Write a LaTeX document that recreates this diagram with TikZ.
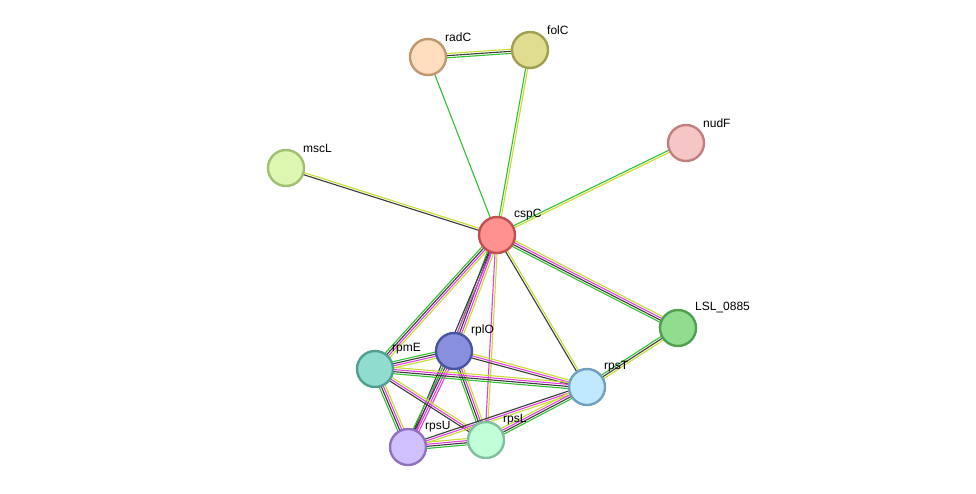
\documentclass[tikz,border=0pt]{standalone}
\usepackage{fontspec}
\setmainfont{Liberation Sans}
\usetikzlibrary{calc}
\definecolor{cG}{HTML}{33C033}
\definecolor{cK}{HTML}{3A3A3A}
\definecolor{cM}{HTML}{E040E0}
\definecolor{cL}{HTML}{C8DC30}
\newcommand\sedge[3]{%
  \foreach \c [count=\i] in {#3} {\xdef\nn{\i}}%
  \foreach \c [count=\i] in {#3} {%
    \pgfmathsetmacro\off{(\i-(\nn+1)/2)*2.1}%
    \draw[\c,line width=1.1pt] ($(#1)!\off pt!90:(#2)$) -- ($(#2)!\off pt!-90:(#1)$);}}
\tikzset{pn/.style={circle,minimum size=36pt,inner sep=0pt,line width=2.4pt},
  lb/.style={font=\fontsize{12}{14}\selectfont,anchor=south west,inner sep=1pt}}
\begin{document}
\begin{tikzpicture}[x=1pt,y=-1pt]
\useasboundingbox (0,0) rectangle (976,493);
\coordinate (radC) at (428,57);
\coordinate (folC) at (530,50);
\coordinate (nudF) at (686,143);
\coordinate (mscL) at (286,168);
\coordinate (cspC) at (497,235);
\coordinate (LSL) at (678,328);
\coordinate (rplO) at (454,351);
\coordinate (rpmE) at (375,369);
\coordinate (rpsT) at (587,387);
\coordinate (rpsU) at (408,447);
\coordinate (rpsL) at (486,440);
\sedge{radC}{folC}{cG,cK,cL}
\sedge{radC}{cspC}{cG}
\sedge{folC}{cspC}{cG,cL}
\sedge{nudF}{cspC}{cG,cL}
\sedge{mscL}{cspC}{cK,cL}
\sedge{cspC}{LSL}{cG,cK,cM,cL}
\sedge{cspC}{rpsT}{cK,cL}
\sedge{cspC}{rplO}{cG,cK,cM,cL}
\sedge{cspC}{rpmE}{cG,cK,cM,cL}
\sedge{cspC}{rpsU}{cK,cM}
\sedge{cspC}{rpsL}{cM,cL}
\sedge{LSL}{rpsT}{cG,cK,cL}
\sedge{rplO}{rpmE}{cG,cK,cM,cL}
\sedge{rplO}{rpsT}{cK,cM,cL}
\sedge{rplO}{rpsU}{cG,cK,cM,cM}
\sedge{rplO}{rpsL}{cG,cK,cM,cL}
\sedge{rpmE}{rpsT}{cG,cK,cM,cL}
\sedge{rpmE}{rpsU}{cG,cK,cM,cL}
\sedge{rpmE}{rpsL}{cK,cM,cL}
\sedge{rpsU}{rpsL}{cG,cK,cM,cL}
\sedge{rpsU}{rpsT}{cL,cM,cK}
\sedge{rpsL}{rpsT}{cG,cK,cM,cL}
\node[pn,fill={rgb,255:red,255;green,221;blue,190},draw={rgb,255:red,192;green,152;blue,112}] (nradC) at (radC) {};
\node[pn,fill={rgb,255:red,224;green,220;blue,144},draw={rgb,255:red,160;green,160;blue,80}] (nfolC) at (folC) {};
\node[pn,fill={rgb,255:red,246;green,198;blue,198},draw={rgb,255:red,192;green,128;blue,128}] (nnudF) at (nudF) {};
\node[pn,fill={rgb,255:red,221;green,246;blue,176},draw={rgb,255:red,160;green,192;blue,112}] (nmscL) at (mscL) {};
\node[pn,fill={rgb,255:red,255;green,144;blue,144},draw={rgb,255:red,192;green,80;blue,80}] (ncspC) at (cspC) {};
\node[pn,fill={rgb,255:red,144;green,221;blue,144},draw={rgb,255:red,80;green,160;blue,80}] (nLSL) at (LSL) {};
\node[pn,fill={rgb,255:red,136;green,144;blue,221},draw={rgb,255:red,72;green,85;blue,160}] (nrplO) at (rplO) {};
\node[pn,fill={rgb,255:red,144;green,221;blue,208},draw={rgb,255:red,80;green,160;blue,144}] (nrpmE) at (rpmE) {};
\node[pn,fill={rgb,255:red,192;green,232;blue,255},draw={rgb,255:red,112;green,160;blue,192}] (nrpsT) at (rpsT) {};
\node[pn,fill={rgb,255:red,208;green,192;blue,255},draw={rgb,255:red,144;green,112;blue,192}] (nrpsU) at (rpsU) {};
\node[pn,fill={rgb,255:red,192;green,255;blue,216},draw={rgb,255:red,128;green,192;blue,160}] (nrpsL) at (rpsL) {};
\node[lb] (lradC) at ($(radC)+(16,-14)$) {radC};
\node[lb] (lfolC) at ($(folC)+(16,-14)$) {folC};
\node[lb] (lnudF) at ($(nudF)+(16,-14)$) {nudF};
\node[lb] (lmscL) at ($(mscL)+(16,-14)$) {mscL};
\node[lb] (lcspC) at ($(cspC)+(16,-14)$) {cspC};
\node[lb] (lLSL) at ($(LSL)+(16,-14)$) {LSL\_0885};
\node[lb] (lrplO) at ($(rplO)+(16,-14)$) {rplO};
\node[lb] (lrpmE) at ($(rpmE)+(16,-14)$) {rpmE};
\node[lb] (lrpsT) at ($(rpsT)+(16,-14)$) {rpsT};
\node[lb] (lrpsU) at ($(rpsU)+(16,-14)$) {rpsU};
\node[lb] (lrpsL) at ($(rpsL)+(16,-14)$) {rpsL};
\end{tikzpicture}
\end{document}
